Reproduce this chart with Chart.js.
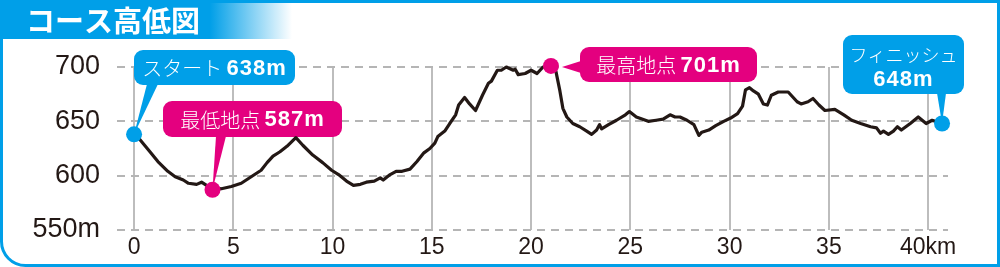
<!DOCTYPE html>
<html lang="ja">
<head>
<meta charset="utf-8">
<title>コース高低図</title>
<script src="https://cdn.jsdelivr.net/npm/chart.js@4.4.1/dist/chart.umd.min.js"></script>
<style>
  html, body { margin: 0; padding: 0; background: #fff; }
  #wrap { width: 1000px; height: 267px; }
</style>
</head>
<body>
<div id="wrap"><canvas id="profile" width="1000" height="267"></canvas></div>
<script>
const TITLE = "コース高低図";

const KM = [
  0, 0.3, 0.8, 1.2, 1.7, 2.07, 2.48, 2.74, 3.15, 3.4,
  3.65, 3.95, 4.4, 4.9, 5.4, 5.9, 6.4, 6.7, 7.0, 7.35,
  7.7, 8.15, 8.5, 9.0, 9.5, 9.95, 10.3, 10.7, 11.05, 11.4,
  11.7, 12.1, 12.4, 12.55, 12.9, 13.2, 13.5, 13.9, 14.25, 14.6,
  14.9, 15.15, 15.3, 15.65, 15.9, 16.2, 16.35, 16.65, 16.9, 17.2,
  17.55, 17.85, 18.0, 18.3, 18.5, 18.75, 19.1, 19.2, 19.35, 19.7,
  20.0, 20.3, 20.6, 21.0, 21.25, 21.45, 21.6, 21.8, 22.1, 22.45,
  22.8, 23.05, 23.3, 23.45, 23.55, 23.9, 24.3, 24.75, 24.95, 25.3,
  25.9, 26.3, 26.65, 27.0, 27.25, 27.5, 27.85, 28.2, 28.45, 28.6,
  28.95, 29.3, 29.7, 30.05, 30.4, 30.65, 30.8, 31.0, 31.2, 31.45,
  31.7, 31.9, 32.1, 32.45, 32.7, 32.95, 33.4, 33.6, 33.95, 34.2,
  34.5, 34.8, 35.3, 35.75, 36.15, 36.6, 37.1, 37.4, 37.6, 37.75,
  38.0, 38.25, 38.45, 38.65, 39.1, 39.5, 39.9, 40.2, 40.7
];

const ELEV = [
  638, 633, 622, 613, 604, 599, 596, 593, 592, 594,
  591, 587, 588, 590, 593, 599, 605, 612, 618, 622,
  627, 635, 628, 619, 612, 605, 601, 595, 591, 592,
  594, 595, 598, 596, 601, 604, 604, 606, 613, 621,
  625, 630, 636, 641, 648, 656, 665, 672, 666, 660,
  674, 685, 687, 697, 697, 700, 697, 698, 693, 694,
  697, 694, 700, 701, 696, 678, 662, 654, 648, 645,
  641, 638, 642, 647, 643, 647, 651, 656, 659, 654,
  650, 651, 652, 656, 654, 654, 651, 647, 637, 640,
  642, 646, 650, 653, 657, 664, 679, 681, 678, 675,
  666, 665, 674, 677, 677, 677, 668, 666, 668, 671,
  665, 660, 661, 656, 651, 648, 645, 644, 639, 641,
  638, 641, 645, 642, 648, 654, 648, 651, 648
];

const X_TICKS = [0, 5, 10, 15, 20, 25, 30, 35, 40];
const Y_TICKS = [550, 600, 650, 700];

// Markeringen: start, laagste punt, hoogste punt, finish
const MARK_KM = [0, 3.95, 21.0, 40.7];
const MARK_ELEV = [638, 587, 701, 648];
const MARK_NAME = ["スタート", "最低地点", "最高地点", "フィニッシュ"];
const MARK_VALUE = ["638m", "587m", "701m", "648m"];

const BLUE = "#009fe8";
const MAGENTA = "#e4007f";
const INK = "#231815";
const MARK_COLORS = [BLUE, MAGENTA, MAGENTA, BLUE];

const JP_FONT = '"Noto Sans CJK JP", "Noto Sans", sans-serif';
const NUM_FONT = '"Liberation Sans", Arial, sans-serif';

// Ballonnen: box = [x, y, w, h]; base = staartbasis (x-bereik onder, of y-bereik links)
const CALLOUTS = [
  { box: [134, 50, 161, 35], tail: "down", base: [147, 158] },
  { box: [163, 101, 179, 36], tail: "down", base: [216, 226] },
  { box: [580, 47, 177, 35], tail: "left", base: [61, 73] },
  { box: [843, 35, 121, 59], tail: "down", base: [937, 946], twoLines: true },
];

function roundRect(c, x, y, w, h, r) {
  c.beginPath();
  c.moveTo(x + r, y);
  c.arcTo(x + w, y, x + w, y + h, r);
  c.arcTo(x + w, y + h, x, y + h, r);
  c.arcTo(x, y + h, x, y, r);
  c.arcTo(x, y, x + w, y, r);
  c.closePath();
}

const framePlugin = {
  id: "frame",
  beforeDraw(chart) {
    const c = chart.ctx;
    const W = chart.width, H = chart.height;
    c.save();
    c.fillStyle = "#fff";
    c.fillRect(0, 0, W, H);
    // titel-tab met verloop
    const g = c.createLinearGradient(210, 0, 292, 0);
    g.addColorStop(0, BLUE);
    g.addColorStop(1, "rgba(0,159,232,0)");
    c.fillStyle = g;
    c.fillRect(0, 0, 292, 39);
    // rand
    c.strokeStyle = BLUE;
    c.lineWidth = 3;
    c.beginPath();
    c.moveTo(1.5, 0);
    c.lineTo(1.5, H - 1.5 - 24);
    c.arcTo(1.5, H - 1.5, 25.5, H - 1.5, 24);
    c.lineTo(W - 1.5, H - 1.5);
    c.lineTo(W - 1.5, 1.5);
    c.lineTo(0, 1.5);
    c.stroke();
    c.fillStyle = "#fff";
    c.font = "bold 29px " + JP_FONT;
    c.textBaseline = "middle";
    c.textAlign = "left";
    c.fillText(TITLE, 26, 21);
    c.restore();
  }
};

const calloutPlugin = {
  id: "callouts",
  beforeDatasetsDraw(chart) {
    const c = chart.ctx;
    const xs = chart.scales.x, ys = chart.scales.y;
    c.save();
    CALLOUTS.forEach((co, i) => {
      const px = xs.getPixelForValue(MARK_KM[i]);
      const py = ys.getPixelForValue(MARK_ELEV[i]);
      const [bx, by, bw, bh] = co.box;
      c.fillStyle = MARK_COLORS[i];
      roundRect(c, bx, by, bw, bh, 9);
      c.fill();
      c.beginPath();
      if (co.tail === "down") {
        c.moveTo(co.base[0], by + bh - 1);
        c.lineTo(co.base[1], by + bh - 1);
        c.lineTo(px, py);
      } else {
        c.moveTo(bx + 1, co.base[0]);
        c.lineTo(bx + 1, co.base[1]);
        c.lineTo(px + 11, py + 1);
      }
      c.closePath();
      c.fill();

      c.fillStyle = "#fff";
      c.textBaseline = "middle";
      const nameFont = "300 20px " + JP_FONT;
      const valFont = "bold 22px " + NUM_FONT;
      if (co.twoLines) {
        c.textAlign = "center";
        c.font = "300 18px " + JP_FONT;
        c.fillText(MARK_NAME[i], bx + bw / 2, by + 20);
        c.font = valFont;
        c.letterSpacing = "1px";
        c.fillText(MARK_VALUE[i], bx + bw / 2, by + 45);
        c.letterSpacing = "0px";
      } else {
        c.textAlign = "left";
        c.font = nameFont;
        const w1 = c.measureText(MARK_NAME[i] + " ").width;
        c.font = valFont;
        c.letterSpacing = "1px";
        const w2 = c.measureText(MARK_VALUE[i]).width;
        c.letterSpacing = "0px";
        const x0 = bx + (bw - w1 - w2) / 2;
        const ty = by + bh / 2 + 1;
        c.font = nameFont;
        c.fillText(MARK_NAME[i], x0, ty);
        c.font = valFont;
        c.letterSpacing = "1px";
        c.fillText(MARK_VALUE[i], x0 + w1, ty);
        c.letterSpacing = "0px";
      }
    });
    c.restore();
  }
};

const ctx = document.getElementById("profile");
new Chart(ctx, {
  type: "line",
  data: {
    datasets: [
      {
        label: "markers",
        data: MARK_KM.map((x, i) => ({ x, y: MARK_ELEV[i] })),
        showLine: false,
        pointRadius: 8,
        pointBackgroundColor: MARK_COLORS,
        pointBorderWidth: 0,
        clip: false,
        order: 0,
      },
      {
        label: "elevation",
        data: KM.map((x, i) => ({ x, y: ELEV[i] })),
        borderColor: INK,
        borderWidth: 3.2,
        borderJoinStyle: "round",
        pointRadius: 0,
        tension: 0,
        clip: false,
        order: 1,
      }
    ]
  },
  plugins: [framePlugin, calloutPlugin],
  options: {
    responsive: false,
    animation: false,
    events: [],
    layout: { padding: { top: 67, right: 52, bottom: 0, left: 0 } },
    plugins: { legend: { display: false }, tooltip: { enabled: false } },
    scales: {
      x: {
        type: "linear",
        min: -0.86,
        max: 41.0,
        afterBuildTicks: s => { s.ticks = X_TICKS.map(v => ({ value: v })); },
        afterFit: s => { s.height = 37; },
        grid: { color: "#bdbdbd", lineWidth: 2, drawTicks: false },
        border: { display: false },
        ticks: {
          color: INK,
          font: { family: NUM_FONT, size: 23 },
          padding: 4,
          maxRotation: 0,
          autoSkip: false,
          callback: v => v === 40 ? "40km" : v
        }
      },
      y: {
        min: 550,
        max: 700,
        afterBuildTicks: s => { s.ticks = Y_TICKS.map(v => ({ value: v })); },
        afterFit: s => { s.width = 117; },
        grid: { color: "#b5b5b5", lineWidth: 2, drawTicks: false },
        border: { display: false, dash: [8, 6] },
        ticks: {
          color: INK,
          font: { family: NUM_FONT, size: 27 },
          padding: 17,
          callback: v => v === 550 ? "550m" : v
        }
      }
    }
  }
});
</script>
</body>
</html>
